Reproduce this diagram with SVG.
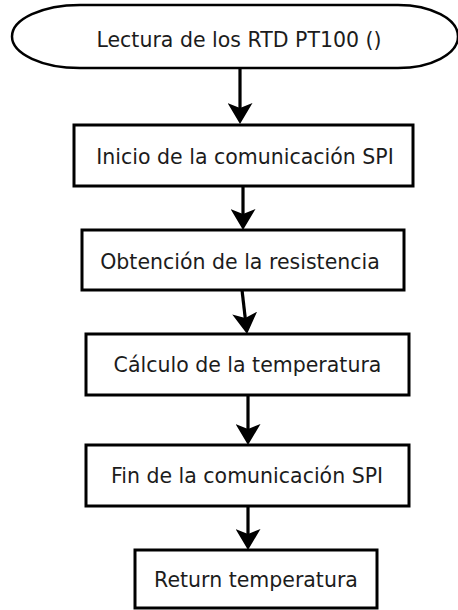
<svg xmlns="http://www.w3.org/2000/svg" width="458" height="610" viewBox="0 0 458 610">
  <style>
    .box { fill: #ffffff; stroke: #000000; stroke-width: 3; }
    .term { fill: #ffffff; stroke: #000000; stroke-width: 2.5; }
    .lbl { font-family: "DejaVu Sans", Verdana, sans-serif; font-size: 20.5px; fill: #1c1c1c; text-anchor: middle; }
    .conn { stroke: #000000; stroke-width: 3.2; fill: none; marker-end: url(#arrow); }
  </style>
  <defs>
    <marker id="arrow" markerUnits="userSpaceOnUse" markerWidth="21" markerHeight="25" viewBox="0 0 21 25" refX="17" refY="12.5" orient="auto">
      <path d="M0,0 L21,12.5 L0,25 L5,12.5 Z" fill="#000000"/>
    </marker>
  </defs>
  <rect width="458" height="610" fill="#ffffff"/>

  <g id="connectors">
    <line class="conn" x1="240" y1="68" x2="240" y2="120"/>
    <line class="conn" x1="243" y1="186" x2="243" y2="226"/>
    <line class="conn" x1="242" y1="290" x2="246.6" y2="330"/>
    <line class="conn" x1="248" y1="395" x2="248" y2="441"/>
    <line class="conn" x1="248" y1="506" x2="248" y2="546"/>
  </g>

  <g id="start">
    <path class="term" d="M80,5 H398 A60,31.5 0 0 1 398,68 H80 A68,31.5 0 0 1 80,5 Z"/>
    <text class="lbl" x="239" y="47">Lectura de los RTD PT100 ()</text>
  </g>

  <g id="inicio">
    <rect class="box" x="74" y="125" width="339" height="61"/>
    <text class="lbl" x="245" y="164">Inicio de la comunicación SPI</text>
  </g>

  <g id="obtencion">
    <rect class="box" x="82" y="230" width="322" height="60"/>
    <text class="lbl" x="240" y="269">Obtención de la resistencia</text>
  </g>

  <g id="calculo">
    <rect class="box" x="86" y="334" width="323" height="61"/>
    <text class="lbl" x="247.5" y="372">Cálculo de la temperatura</text>
  </g>

  <g id="fin">
    <rect class="box" x="86" y="445" width="323" height="61"/>
    <text class="lbl" x="247" y="483">Fin de la comunicación SPI</text>
  </g>

  <g id="return">
    <rect class="box" x="135" y="550" width="242" height="58"/>
    <text class="lbl" x="256" y="587">Return temperatura</text>
  </g>
</svg>
